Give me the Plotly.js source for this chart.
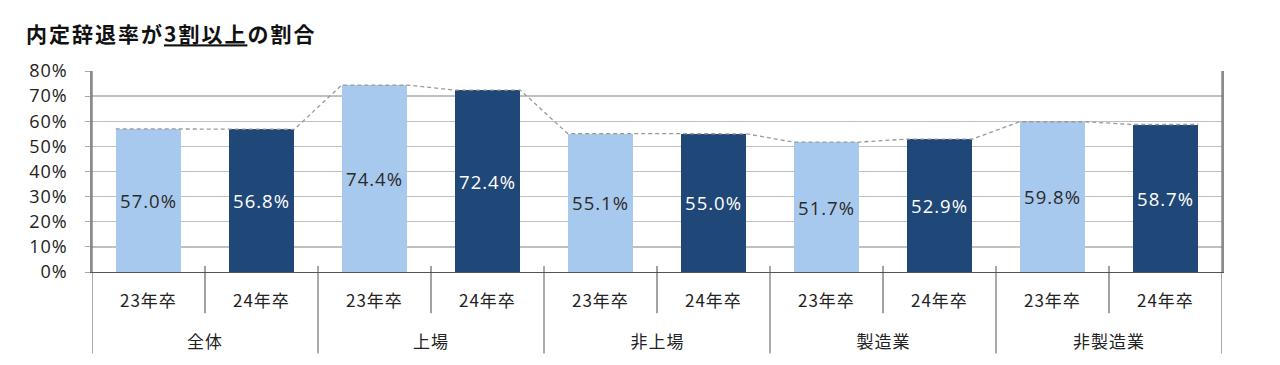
<!DOCTYPE html>
<html>
<head>
<meta charset="utf-8">
<script src="https://cdn.plot.ly/plotly-3.0.1.min.js"></script>
<style>
html,body{margin:0;padding:0;background:#fff;}
#chart{width:1280px;height:365px;}
#chart text{letter-spacing:1px;}
#chart .gtitle{letter-spacing:2px;}
</style>
</head>
<body>
<div id="chart"></div>
<script>
const groups = ["全体", "上場", "非上場", "製造業", "非製造業"];
const years = ["23年卒", "24年卒"];
const values = [57.0, 56.8, 74.4, 72.4, 55.1, 55.0, 51.7, 52.9, 59.8, 58.7];
const yTicks = [0, 10, 20, 30, 40, 50, 60, 70, 80];
const yTickText = ["0%", "10%", "20%", "30%", "40%", "50%", "60%", "70%", "80%"];

const LIGHT = "#A8C9EE";
const DARK = "#1F4778";
const BARW = 0.58;
const NUMFONT = "Open Sans, Noto Sans CJK JP, sans-serif";
const JPFONT = "Noto Sans CJK JP, sans-serif";

const idx = values.map((v, i) => i);
const colors = values.map((v, i) => (i % 2 === 0 ? LIGHT : DARK));
const textColors = values.map((v, i) => (i % 2 === 0 ? "#2a2a2a" : "#ffffff"));

// dashed series line connecting top corners of the bars
const lx = [], ly = [];
values.forEach((v, i) => {
  lx.push(i - BARW / 2, i + BARW / 2);
  ly.push(v, v);
});

const traces = [
  {
    type: "scatter", mode: "lines", x: lx, y: ly,
    line: {color: "#9a9a9a", width: 1.3, dash: "4px,3px"},
    hoverinfo: "skip", showlegend: false
  },
  {
    type: "bar", x: idx, y: values, width: BARW,
    marker: {color: colors},
    text: values.map(v => v.toFixed(1) + "%"),
    textposition: "inside", insidetextanchor: "middle",
    textangle: 0,
    textfont: {size: 18.5, color: textColors, family: NUMFONT},
    cliponaxis: false,
    showlegend: false
  }
];

const annotations = [];
const shapes = [];
values.forEach((v, i) => {
  annotations.push({
    x: i, xref: "x", y: 0, yref: "paper", yshift: -27,
    text: years[i % 2], showarrow: false,
    font: {size: 17, color: "#222", family: JPFONT}, yanchor: "middle"
  });
});
groups.forEach((g, gi) => {
  annotations.push({
    x: gi * 2 + 0.5, xref: "x", y: 0, yref: "paper", yshift: -68,
    text: g, showarrow: false,
    font: {size: 17, color: "#222", family: JPFONT}, yanchor: "middle"
  });
  // inner divider
  shapes.push({type: "line", xref: "x", yref: "paper", x0: gi * 2 + 0.5, x1: gi * 2 + 0.5,
    y0: 0.03, y1: -0.205, line: {color: "#444", width: 1}});
});
for (let gi = 0; gi <= groups.length; gi++) {
  shapes.push({type: "line", xref: "x", yref: "paper", x0: gi * 2 - 0.5, x1: gi * 2 - 0.5,
    y0: gi === 0 || gi === groups.length ? 1 : 0.03, y1: -0.405, line: {color: "#555", width: 1}});
}

const layout = {
  width: 1280, height: 365,
  margin: {l: 92, r: 58, t: 71, b: 93},
  paper_bgcolor: "#fff", plot_bgcolor: "#fff",
  title: {
    text: "内定辞退率が<u>3割以上</u>の割合",
    x: 26 / 1280, xref: "container", xanchor: "left",
    y: 1 - 35 / 365, yref: "container", yanchor: "middle",
    font: {size: 21, color: "#111", family: JPFONT, weight: "bold"}
  },
  xaxis: {
    range: [-0.5, 9.5], showticklabels: false, showgrid: false, zeroline: false,
    showline: true, linecolor: "#555", linewidth: 1, fixedrange: true
  },
  yaxis: {
    range: [0, 80], tickvals: yTicks, ticktext: yTickText,
    showgrid: true, gridcolor: "#c0c0c0", gridwidth: 1.3,
    zeroline: false, showline: true, mirror: true, linecolor: "#8a8a8a", linewidth: 1.8,
    ticks: "outside", ticklen: 5, tickcolor: "#aaa", ticklabelstandoff: 14,
    tickfont: {size: 18, color: "#222", family: NUMFONT}, fixedrange: true
  },
  shapes: shapes,
  annotations: annotations,
  bargap: 0
};

Plotly.newPlot("chart", traces, layout, {displayModeBar: false, staticPlot: true});
</script>
</body>
</html>
